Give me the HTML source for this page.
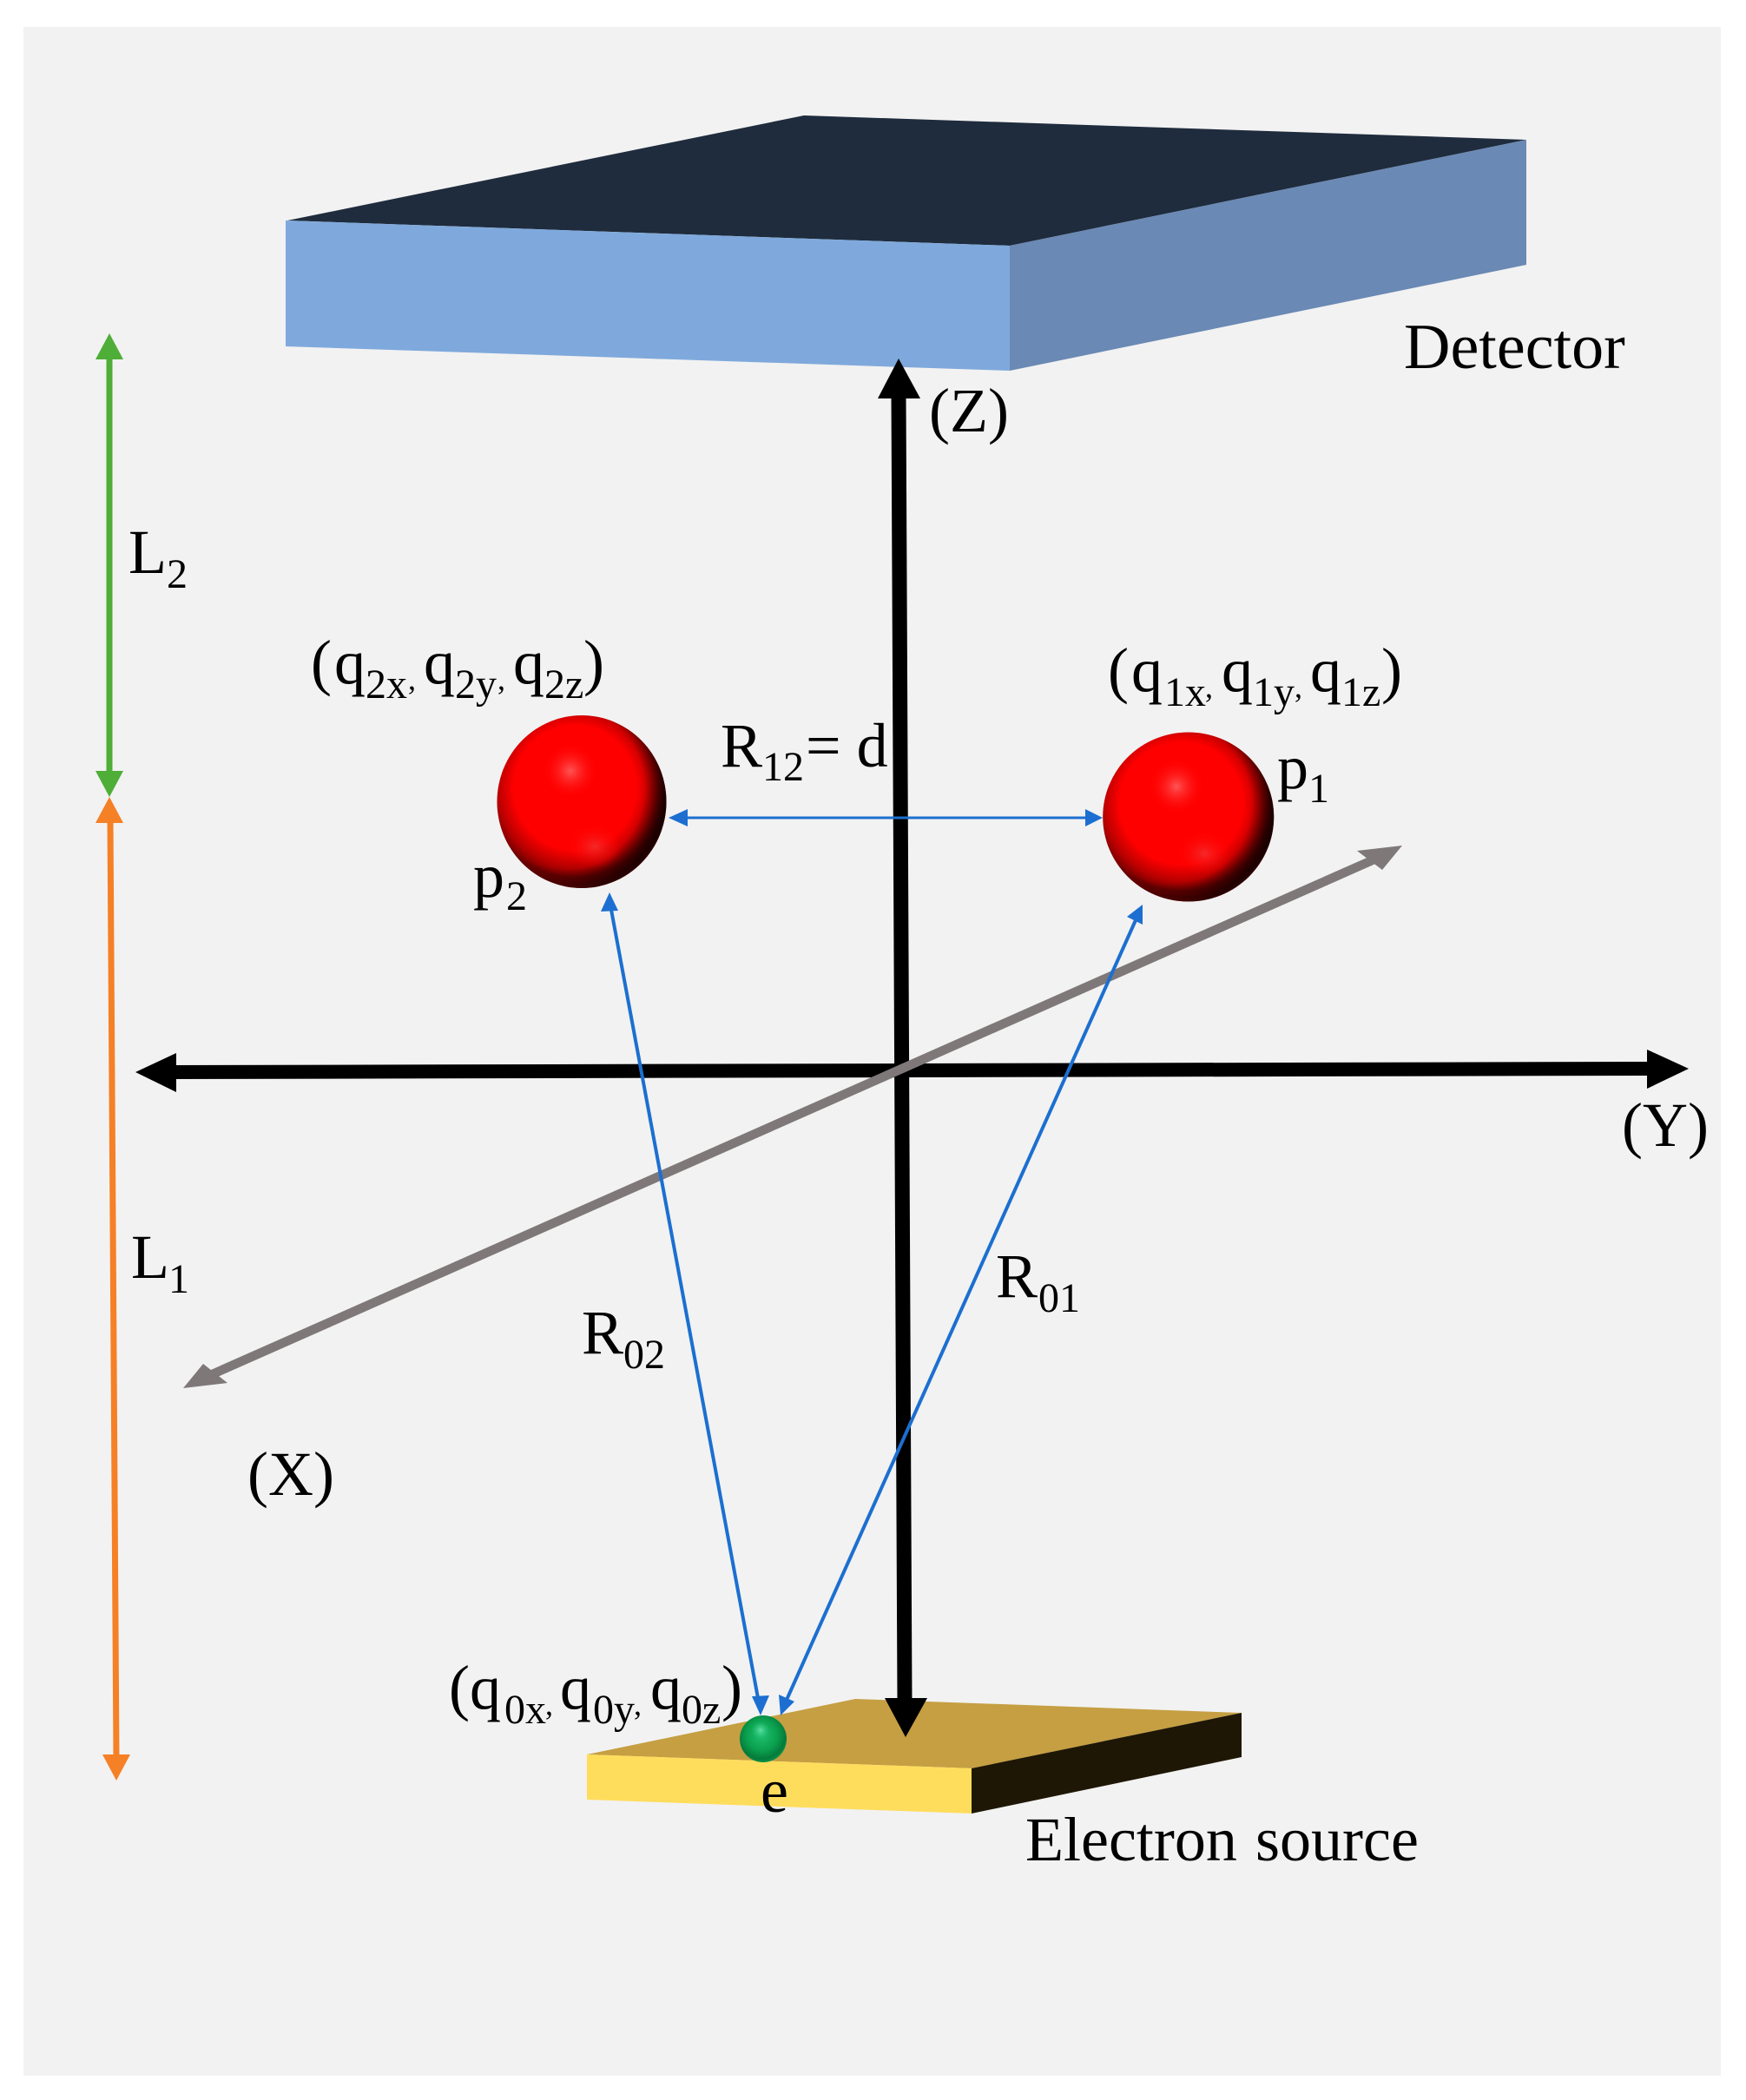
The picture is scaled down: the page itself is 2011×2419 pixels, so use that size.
<!DOCTYPE html>
<html><head><meta charset="utf-8"><style>html,body{margin:0;padding:0;background:#fff}svg{display:block}text{font-family:"Liberation Serif",serif;font-size:72px;fill:#000}.s{font-size:48px}.c{font-size:36px}</style></head><body>
<svg xmlns="http://www.w3.org/2000/svg" width="2011" height="2419" viewBox="0 0 2011 2419">
<defs>
<radialGradient id="rb" cx="0.46" cy="0.42" r="0.62"><stop offset="0" stop-color="#f00"/><stop offset="0.58" stop-color="#f00"/><stop offset="0.74" stop-color="#b80000"/><stop offset="0.84" stop-color="#750000"/><stop offset="0.9" stop-color="#8a0000"/><stop offset="0.95" stop-color="#e81010"/><stop offset="1" stop-color="#ff3030"/></radialGradient>
<radialGradient id="rd" cx="0.4" cy="0.42" r="0.62"><stop offset="0.76" stop-color="#000" stop-opacity="0"/><stop offset="0.97" stop-color="#000" stop-opacity=".8"/></radialGradient>
<radialGradient id="hl"><stop offset="0" stop-color="#ff5555"/><stop offset="1" stop-color="#ff0000" stop-opacity="0"/></radialGradient>
<radialGradient id="hl2"><stop offset="0" stop-color="#f33030" stop-opacity=".85"/><stop offset="1" stop-color="#f00" stop-opacity="0"/></radialGradient>
<radialGradient id="gb" cx="0.47" cy="0.42" r="0.6"><stop offset="0" stop-color="#1fc070"/><stop offset="0.55" stop-color="#0aa04e"/><stop offset="0.85" stop-color="#067a3a"/><stop offset="1" stop-color="#0a9a4c"/></radialGradient>
<radialGradient id="gh"><stop offset="0" stop-color="#5fe0a5"/><stop offset="1" stop-color="#1fc070" stop-opacity="0"/></radialGradient>
</defs>
<rect x="27" y="31" width="1955" height="2360" fill="#f2f2f2"/>

<polygon points="331,254 926,133 1758,161 1163,283" fill="#1f2c3d"/>
<polygon points="329,254 1163,283 1163,427 329,399" fill="#7fa9dc"/>
<polygon points="1163,283 1758,161 1758,305 1163,427" fill="#6a89b4"/>

<polygon points="676,2021 985,1957 1430,1973 1119,2037" fill="#c59f42"/>
<polygon points="676,2021 1119,2037 1119,2089 676,2073" fill="#ffdd5c"/>
<polygon points="1119,2037 1430,1973 1430,2024 1119,2089" fill="#1f1705"/>

<line x1="126" y1="412" x2="126" y2="890" stroke="#4fae37" stroke-width="7"/>
<polygon points="126,384 142,414 110,414" fill="#4fae37"/>
<polygon points="126,918 142,888 110,888" fill="#4fae37"/>
<line x1="127" y1="945" x2="134" y2="2025" stroke="#f58026" stroke-width="7"/>
<polygon points="126,918 142,948 110,948" fill="#f58026"/>
<polygon points="134,2051 150,2021 118,2021" fill="#f58026"/>

<line x1="1035" y1="455" x2="1042" y2="1960" stroke="#000" stroke-width="17"/>
<polygon points="1035,413 1060,459 1011,459" fill="#000"/>
<polygon points="1043,2001 1068,1956 1019,1956" fill="#000"/>

<line x1="195" y1="1235" x2="1905" y2="1231" stroke="#000" stroke-width="16"/>
<polygon points="156,1235 203,1213 203,1258" fill="#000"/>
<polygon points="1945,1231 1897,1209 1897,1254" fill="#000"/>

<line x1="1585" y1="989" x2="240" y2="1585" stroke="#7f7879" stroke-width="10.5"/>
<polygon points="1615,974 1563,980 1592,1002" fill="#7f7879"/>
<polygon points="211,1599 262,1593 234,1571" fill="#7f7879"/>

<line x1="785" y1="942" x2="1255" y2="942" stroke="#1c6fd0" stroke-width="3"/>
<polygon points="770,942 792,932 792,952" fill="#1c6fd0"/>
<polygon points="1270,942 1250,932 1250,952" fill="#1c6fd0"/>
<line x1="704" y1="1048" x2="873" y2="1956" stroke="#1c6fd0" stroke-width="4"/>
<polygon points="702,1028 692,1050 712,1049" fill="#1c6fd0"/>
<polygon points="876,1976 866,1954 886,1953" fill="#1c6fd0"/>
<line x1="1308" y1="1060" x2="906" y2="1958" stroke="#1c6fd0" stroke-width="4"/>
<polygon points="1316,1042 1298,1056 1316,1065" fill="#1c6fd0"/>
<polygon points="899,1976 897,1952 915,1960" fill="#1c6fd0"/>

<g>
<ellipse cx="670" cy="923.5" rx="97.5" ry="99.5" fill="url(#rb)"/>
<ellipse cx="670" cy="923.5" rx="97.5" ry="99.5" fill="url(#rd)"/>
<ellipse cx="657" cy="888" rx="32" ry="32" fill="url(#hl)"/>
<ellipse cx="685" cy="975" rx="32" ry="26" fill="url(#hl2)"/>
</g>
<g>
<ellipse cx="1368.7" cy="941" rx="98.5" ry="97.5" fill="url(#rb)"/>
<ellipse cx="1368.7" cy="941" rx="98.5" ry="97.5" fill="url(#rd)"/>
<ellipse cx="1355" cy="906" rx="32" ry="32" fill="url(#hl)"/>
<ellipse cx="1387" cy="983" rx="32" ry="26" fill="url(#hl2)"/>
</g>
<g>
<ellipse cx="879" cy="2003" rx="27" ry="27" fill="url(#gb)"/>
<ellipse cx="876" cy="1993" rx="11" ry="11" fill="url(#gh)"/>
</g>

<text x="1617" y="424" style="font-size:74px">Detector</text>
<text x="1070" y="497">(Z)</text>
<text x="1868" y="1320">(Y)</text>
<text x="285" y="1722">(X)</text>
<text x="876" y="2087">e</text>
<text x="1181" y="2143">Electron<tspan x="1446">source</tspan></text>

<text x="148" y="660">L<tspan class="s" x="192" y="677">2</tspan></text>
<text x="151" y="1472">L<tspan class="s" x="194" y="1489">1</tspan></text>
<text x="830" y="883">R<tspan class="s" x="878" y="899">12</tspan><tspan x="928" y="883">= d</tspan></text>
<text x="670" y="1559">R<tspan class="s" x="718" y="1576">02</tspan></text>
<text x="1147" y="1494">R<tspan class="s" x="1196" y="1511">01</tspan></text>
<text x="1471" y="908">p<tspan class="s" x="1507" y="924">1</tspan></text>
<text x="545" y="1033">p<tspan class="s" x="583" y="1048">2</tspan></text>

<text x="358" y="787">(<tspan x="385">q</tspan><tspan class="s" x="421" y="804">2x</tspan><tspan class="c" x="470" y="794">,</tspan><tspan x="488" y="787">q</tspan><tspan class="s" x="524" y="804">2y</tspan><tspan class="c" x="573" y="794">,</tspan><tspan x="591" y="787">q</tspan><tspan class="s" x="627" y="804">2z</tspan><tspan x="672" y="787">)</tspan></text>
<text x="1276" y="796">(<tspan x="1303">q</tspan><tspan class="s" x="1341" y="813">1x</tspan><tspan class="c" x="1388" y="803">,</tspan><tspan x="1407" y="796">q</tspan><tspan class="s" x="1443" y="813">1y</tspan><tspan class="c" x="1491" y="803">,</tspan><tspan x="1509" y="796">q</tspan><tspan class="s" x="1545" y="813">1z</tspan><tspan x="1591" y="796">)</tspan></text>
<text x="517" y="1968">(<tspan x="541">q</tspan><tspan class="s" x="581" y="1985">0x</tspan><tspan class="c" x="628" y="1975">,</tspan><tspan x="645" y="1968">q</tspan><tspan class="s" x="683" y="1985">0y</tspan><tspan class="c" x="730" y="1975">,</tspan><tspan x="749" y="1968">q</tspan><tspan class="s" x="785" y="1985">0z</tspan><tspan x="831" y="1968">)</tspan></text>
</svg>
</body></html>
